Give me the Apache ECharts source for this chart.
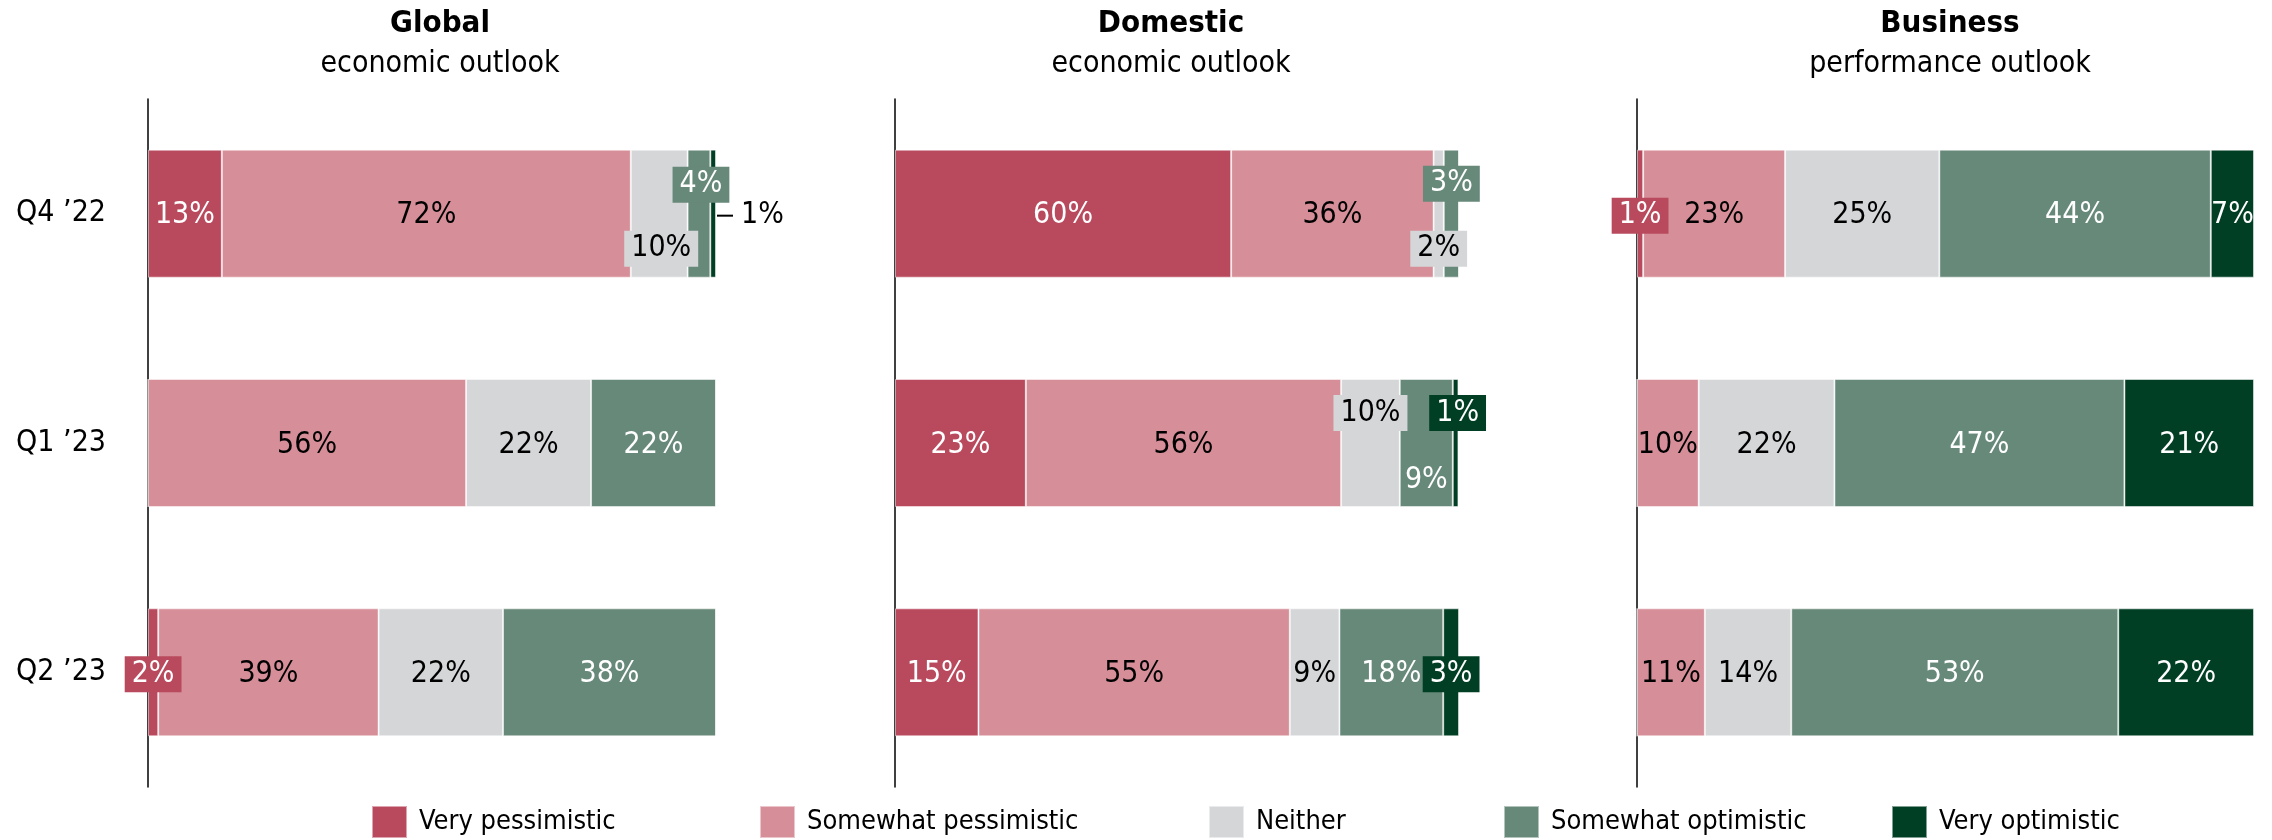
<!DOCTYPE html>
<html>
<head>
<meta charset="utf-8">
<script src="https://cdn.jsdelivr.net/npm/echarts@6/dist/echarts.min.js"></script>
<style>
html,body{margin:0;padding:0;background:#fff;}
#chart{width:2272px;height:840px;}
</style>
</head>
<body>
<div id="chart"></div>
<script>
const categories = ['Q4 ’22', 'Q1 ’23', 'Q2 ’23'];
const seriesNames = ['Very pessimistic', 'Somewhat pessimistic', 'Neither', 'Somewhat optimistic', 'Very optimistic'];
const panelTitles = ['Global', 'Domestic', 'Business'];
const panelSubtitles = ['economic outlook', 'economic outlook', 'performance outlook'];

// shares (%) per panel, per response, per quarter (Q4 '22, Q1 '23, Q2 '23)
const globalVeryPess = [13, 0, 1.8];
const globalSomewhatPess = [72, 56, 38.8];
const globalNeither = [10, 22, 21.9];
const globalSomewhatOpt = [4, 22, 37.5];
const globalVeryOpt = [1, 0, 0];

const domesticVeryPess = [59.6, 23.2, 14.8];
const domesticSomewhatPess = [35.9, 55.9, 55.2];
const domesticNeither = [1.8, 10.4, 8.8];
const domesticSomewhatOpt = [2.7, 9.4, 18.4];
const domesticVeryOpt = [0, 1.0, 2.8];

const businessVeryPess = [1, 0, 0];
const businessSomewhatPess = [23, 10, 11];
const businessNeither = [25, 22, 14];
const businessSomewhatOpt = [44, 47, 53];
const businessVeryOpt = [7, 21, 22];

const panels = [
  [globalVeryPess, globalSomewhatPess, globalNeither, globalSomewhatOpt, globalVeryOpt],
  [domesticVeryPess, domesticSomewhatPess, domesticNeither, domesticSomewhatOpt, domesticVeryOpt],
  [businessVeryPess, businessSomewhatPess, businessNeither, businessSomewhatOpt, businessVeryOpt]
];

const colors = ['#B94A5E', '#D68E99', '#D5D6D8', '#67897A', '#013F25'];
const textColors = ['#fff', '#000', '#000', '#fff', '#fff'];
const FONT = '"DejaVu Sans Condensed", "DejaVu Sans", sans-serif';

const gridLayout = [
  {left: 148, width: 568, titleX: 440},
  {left: 895, width: 564, titleX: 1171},
  {left: 1637, width: 617, titleX: 1950}
];

// label adjustments for small segments: key = panel-series-category
const labelTweaks = {
  '0-2-0': {offset: [2, 33], bg: true},
  '0-3-0': {offset: [2, -31], bg: true},
  '0-4-0': {line: true},
  '0-0-2': {bg: true},
  '1-3-0': {offset: [0, -32], bg: true},
  '1-2-0': {offset: [0, 33], bg: true},
  '1-2-1': {offset: [0, -32], bg: true},
  '1-3-1': {offset: [0, 35]},
  '1-4-1': {offset: [2, -32], bg: true},
  '1-4-2': {bg: true},
  '2-0-0': {bg: true}
};
const BASE_DY = 2;
const pct = (v) => Math.round(v) + '%';

const grids = [], xAxes = [], yAxes = [], series = [], titles = [];
gridLayout.forEach((g, p) => {
  grids.push({left: g.left, width: g.width, top: 99, bottom: 53, containLabel: false});
  xAxes.push({type: 'value', gridIndex: p, min: 0, max: 100, show: false});
  yAxes.push({
    type: 'category', gridIndex: p, data: categories, inverse: true,
    axisLine: {show: true, lineStyle: {color: '#000', width: 1.5}},
    axisTick: {show: false},
    axisLabel: {show: p === 0, fontFamily: FONT, fontSize: 30, color: '#000', margin: 42, padding: [5, 0, 0, 0]},
    splitLine: {show: false}
  });
  titles.push({
    text: panelTitles[p], subtext: panelSubtitles[p],
    left: g.titleX, top: 7, textAlign: 'center', itemGap: 6, padding: 0,
    textStyle: {fontFamily: FONT, fontSize: 31, fontWeight: 'bold', color: '#000', lineHeight: 34},
    subtextStyle: {fontFamily: FONT, fontSize: 30, color: '#000', lineHeight: 34}
  });
  panels[p].forEach((vals, s) => {
    const data = vals.map((v, c) => {
      const t = labelTweaks[p + '-' + s + '-' + c];
      if (!t) return v;
      const label = {};
      if (t.bg) { label.backgroundColor = colors[s]; label.padding = [3, 7]; }
      if (t.line) {
        label.position = 'right';
        label.distance = 1;
        label.color = '#000';
        label.formatter = '{l|}{t|' + pct(v) + '}';
        label.rich = {
          l: {width: 16, height: 2, backgroundColor: '#000'},
          t: {fontFamily: FONT, fontSize: 30, color: '#000', padding: [0, 0, 0, 8]}
        };
      }
      return {value: v, label: label};
    });
    series.push({
      name: seriesNames[s], type: 'bar', stack: 'p' + p,
      xAxisIndex: p, yAxisIndex: p, barWidth: 128, clip: false,
      itemStyle: {color: colors[s], borderColor: 'rgba(255,255,255,0.5)', borderWidth: 1},
      label: {
        show: true, position: 'inside', fontFamily: FONT, fontSize: 30,
        color: textColors[s],
        formatter: (prm) => prm.value ? pct(prm.value) : ''
      },
      labelLayout: (prm) => {
        const t = labelTweaks[p + '-' + s + '-' + prm.dataIndex];
        if (t && t.offset) return {dx: t.offset[0], dy: t.offset[1] + BASE_DY};
        return {dy: BASE_DY};
      },
      emphasis: {disabled: true},
      data: data
    });
  });
});

const legendLeft = [371, 759, 1208, 1503, 1891];
const legends = seriesNames.map((n, i) => ({
  data: [n], left: legendLeft[i], top: 805, padding: 0,
  itemWidth: 35, itemHeight: 32, icon: 'rect',
  textStyle: {fontFamily: FONT, fontSize: 27, color: '#000', padding: [0, 0, 0, 7]}
}));

const chart = echarts.init(document.getElementById('chart'));
chart.setOption({
  animation: false,
  color: colors,
  title: titles,
  grid: grids,
  xAxis: xAxes,
  yAxis: yAxes,
  legend: legends,
  series: series
});
</script>
</body>
</html>
